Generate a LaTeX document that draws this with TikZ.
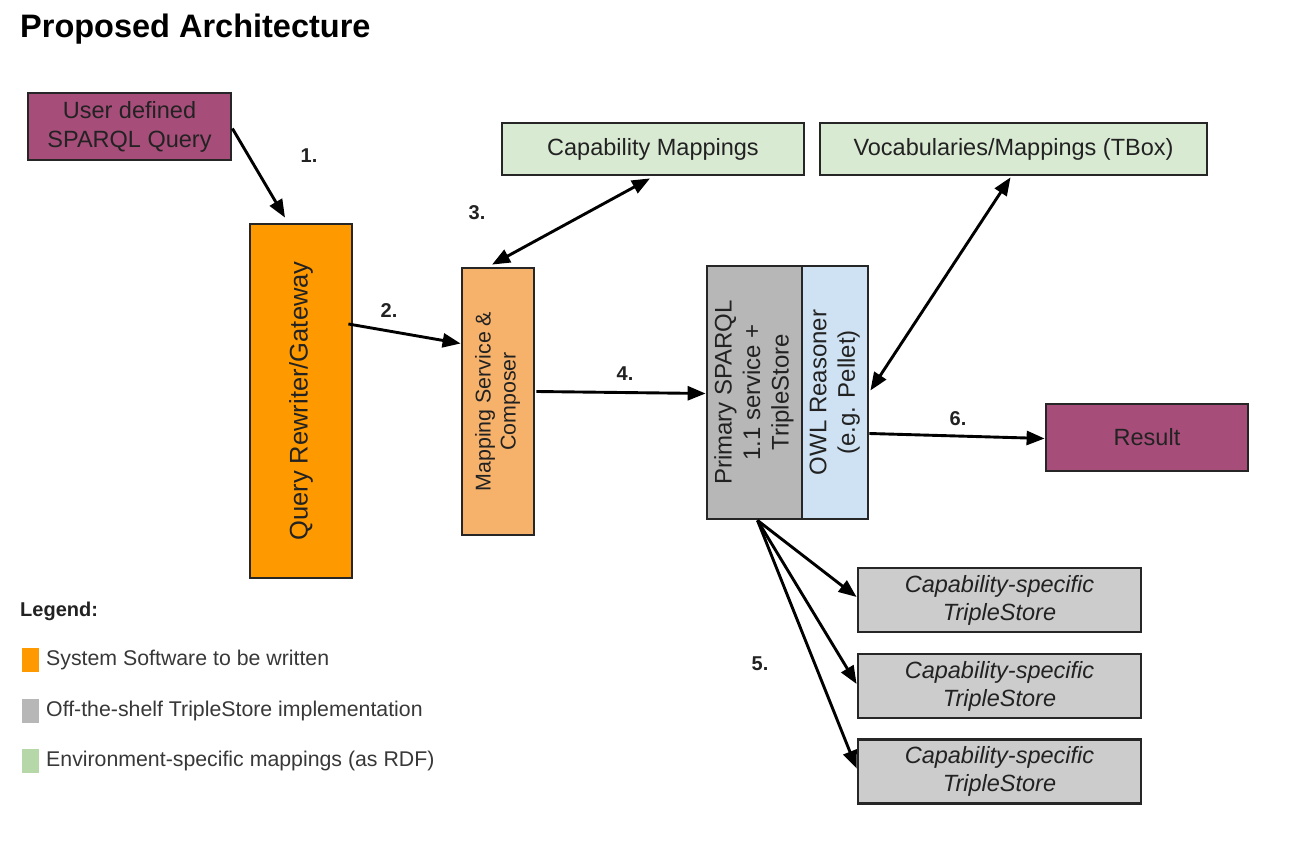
\documentclass[tikz,border=0pt]{standalone}
\usepackage{fontspec}
\setmainfont{Liberation Sans}
\usetikzlibrary{arrows.meta,calc}
\definecolor{purp}{HTML}{A64D79}
\definecolor{orng}{HTML}{FF9900}
\definecolor{lorng}{HTML}{F6B26B}
\definecolor{gprim}{HTML}{B7B7B7}
\definecolor{lblue}{HTML}{CFE2F3}
\definecolor{lgreen}{HTML}{D9EAD3}
\definecolor{gcap}{HTML}{CCCCCC}
\definecolor{leggreen}{HTML}{B6D7A8}
\definecolor{txt}{HTML}{222222}
\begin{document}
\begin{tikzpicture}[x=1pt,y=-1pt,
  box/.style={draw=black!85, line width=2.8pt, rectangle, inner sep=0pt, align=center, text=txt,
    font=\fontsize{23.5}{29}\selectfont},
  conn/.style={line width=2.9pt, -{Triangle[length=18pt,width=14pt]}},
  dconn/.style={line width=2.9pt, {Triangle[length=18pt,width=14pt]}-{Triangle[length=18pt,width=14pt]}},
  num/.style={font=\bfseries\fontsize{20}{24}\selectfont, text=txt},
  legsq/.style={minimum width=17pt, minimum height=24pt, inner sep=0pt},
  legtxt/.style={anchor=west, font=\fontsize{21.3}{25}\selectfont, text=txt!90}
]
\useasboundingbox (0,0) rectangle (1290,858);
\fill[white] (0,0) rectangle (1290,858);

\node[anchor=west, inner sep=0pt, font=\bfseries\fontsize{32.5}{38}\selectfont] (title) at (20,29) {Proposed Architecture};

\node[box, fill=purp, minimum width=203pt, minimum height=67pt] (ud) at (129.5,126.5) {User defined\\SPARQL Query};
\node[box, fill=orng, minimum width=102pt, minimum height=354pt, font=\fontsize{25.5}{30}\selectfont] (qr) at (301,401) {\rotatebox{90}{Query Rewriter/Gateway}};
\node[box, fill=lorng, minimum width=72pt, minimum height=267pt, font=\fontsize{21.4}{25}\selectfont] (ms) at (498,401.5)
  {\rotatebox{90}{\begin{tabular}{@{}c@{}}Mapping Service \&\\Composer\end{tabular}}};
\node[box, fill=lgreen, minimum width=302pt, minimum height=52pt] (cm) at (653,149) {Capability Mappings};
\node[box, fill=lgreen, minimum width=387pt, minimum height=52pt] (tb) at (1013.5,149) {Vocabularies/Mappings (TBox)};
\node[box, fill=gprim, minimum width=95pt, minimum height=253pt, font=\fontsize{24}{28.5}\selectfont] (ps) at (754.5,392.5)
  {\rotatebox{90}{\begin{tabular}{@{}c@{}}Primary SPARQL\\1.1 service +\\TripleStore\end{tabular}}};
\node[box, fill=lblue, minimum width=66pt, minimum height=253pt, font=\fontsize{24}{28.5}\selectfont] (owl) at (835,392.5)
  {\rotatebox{90}{\begin{tabular}{@{}c@{}}OWL Reasoner\\(e.g. Pellet)\end{tabular}}};
\node[box, fill=purp, minimum width=202pt, minimum height=67pt] (res) at (1147,437.5) {Result};
\node[box, fill=gcap, minimum width=283pt, minimum height=64pt, font=\itshape\fontsize{23.5}{28}\selectfont] (cs1) at (999.5,600) {Capability-specific\\TripleStore};
\node[box, fill=gcap, minimum width=283pt, minimum height=64pt, font=\itshape\fontsize{23.5}{28}\selectfont] (cs2) at (999.5,686) {Capability-specific\\TripleStore};
\node[box, fill=gcap, minimum width=283pt, minimum height=64pt, font=\itshape\fontsize{23.5}{28}\selectfont] (cs3) at (999.5,771.5) {Capability-specific\\TripleStore};

% connectors
\draw[conn] ($(ud.east)+(0,2)$) -- ($(qr.north)+(-16,-5)$);
\draw[conn] ($(qr.east)+(-5,-77)$) -- ($(ms.west)+(0,-58)$);
\draw[dconn] ($(ms.north)+(-6,-2)$) -- ($(cm.south)+(-3,2)$);
\draw[conn] ($(ms.east)+(1,-10)$) -- ($(ps.west)+(0,1)$);
\draw[dconn] ($(tb.south)+(-3,1)$) -- ($(owl.east)+(1,-2)$);
\draw[conn] ($(owl.east)+(0,41)$) -- ($(res.west)+(0,1)$);
\draw[conn] ($(ps.south)+(3,0)$) -- ($(cs1.west)+(0,-3)$);
\draw[conn] ($(ps.south)+(3,0)$) -- ($(cs2.west)+(0,-2)$);
\draw[conn] ($(ps.south)+(3,0)$) -- ($(cs3.west)+(0,-3)$);

% step numbers
\node[num] (n1) at (309,156) {1.};
\node[num] (n2) at (389,311) {2.};
\node[num] (n3) at (477,213) {3.};
\node[num] (n4) at (625,374) {4.};
\node[num] (n5) at (760,664) {5.};
\node[num] (n6) at (958,419) {6.};

% legend
\node[anchor=west, inner sep=0pt, font=\bfseries\fontsize{20}{24}\selectfont, text=txt] (lg) at (20,611) {Legend:};
\node[legsq, fill=orng] (sq1) at (30.5,660) {};
\node[legsq, fill=gprim] (sq2) at (30.5,710.5) {};
\node[legsq, fill=leggreen] (sq3) at (30.5,760.5) {};
\node[legtxt, inner sep=0pt] (l1) at (46,660) {System Software to be written};
\node[legtxt, inner sep=0pt] (l2) at (46,710.5) {Off-the-shelf TripleStore implementation};
\node[legtxt, inner sep=0pt] (l3) at (46,760.5) {Environment-specific mappings (as RDF)};
\end{tikzpicture}
\end{document}
